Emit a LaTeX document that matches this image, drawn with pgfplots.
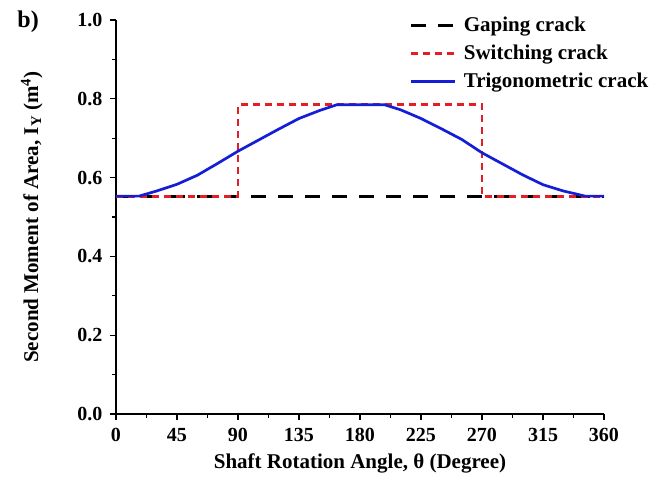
\documentclass[border=0pt]{standalone}
\usepackage{pgfplots}
\pgfplotsset{compat=1.18}
\usepackage{fontspec}
\setmainfont{Liberation Serif}
\definecolor{myred}{RGB}{228,30,36}
\definecolor{myblue}{RGB}{20,30,215}
\begin{document}
\begin{tikzpicture}
\begin{axis}[
  scale only axis,
  width=488pt, height=394pt,
  xmin=0, xmax=360, ymin=0, ymax=1,
  axis x line*=bottom, axis y line*=left,
  x axis line style={-, line width=1.3pt},
  y axis line style={-, line width=1.3pt},
  xtick={0,45,...,360},
  ytick={0,0.2,0.4,0.6,0.8,1.0},
  minor x tick num=1, minor y tick num=1,
  tick align=outside,
  major tick length=6pt, minor tick length=4pt,
  every tick/.style={black, line width=1.1pt},
  /pgf/number format/assume math mode=true,
  yticklabel style={xshift=-4pt, /pgf/number format/.cd, fixed, fixed zerofill, precision=1},
  ticklabel style={font=\fontsize{20}{24}\selectfont\bfseries},
  xticklabel style={yshift=-5pt},
  xlabel={Shaft Rotation Angle, θ (Degree)},
  ylabel={Second Moment of Area, I\textsubscript{Y} (m\textsuperscript{4})},
  label style={font=\fontsize{21}{25}\selectfont\bfseries},
  xlabel style={yshift=-5pt},
  ylabel style={yshift=28pt},
  legend cell align=left,
  legend style={draw=none, fill=none, at={(0.596,1.018)}, anchor=north west,
    font=\fontsize{21}{25}\selectfont\bfseries, row sep=8pt},
  legend image code/.code={\draw[#1] (0pt,0pt) -- (44pt,0pt); \path (49pt,0pt);},
  clip=false,
]
\addplot[black, line width=2.8pt, dash pattern=on 15pt off 12pt] coordinates {(0,0.553) (360,0.553)};
\addlegendentry{Gaping crack}
\addplot[myred, line width=2.8pt, dash pattern=on 7pt off 5pt] coordinates {(0,0.553) (90,0.553) (90,0.785) (270,0.785) (270,0.553) (360,0.553)};
\addlegendentry{Switching crack}
\addplot[myblue, line width=2.7pt] coordinates {
(0,0.553) (17,0.553) (30,0.566) (45,0.583) (60,0.606) (75,0.636) (90,0.667)
(105,0.695) (120,0.723) (135,0.750) (150,0.770) (163,0.785) (198,0.785)
(210,0.772) (225,0.750) (240,0.724) (255,0.697) (270,0.663) (285,0.635)
(300,0.607) (315,0.582) (330,0.566) (340,0.558) (346,0.553) (360,0.553)};
\addlegendentry{Trigonometric crack}
\node[font=\fontsize{24}{28}\selectfont\bfseries, anchor=center] at (rel axis cs:-0.18,0.995) {b)};
\end{axis}
\pgfresetboundingbox
\path[use as bounding box] (-116pt,-68pt) rectangle (551pt,414pt);
\end{tikzpicture}
\end{document}
